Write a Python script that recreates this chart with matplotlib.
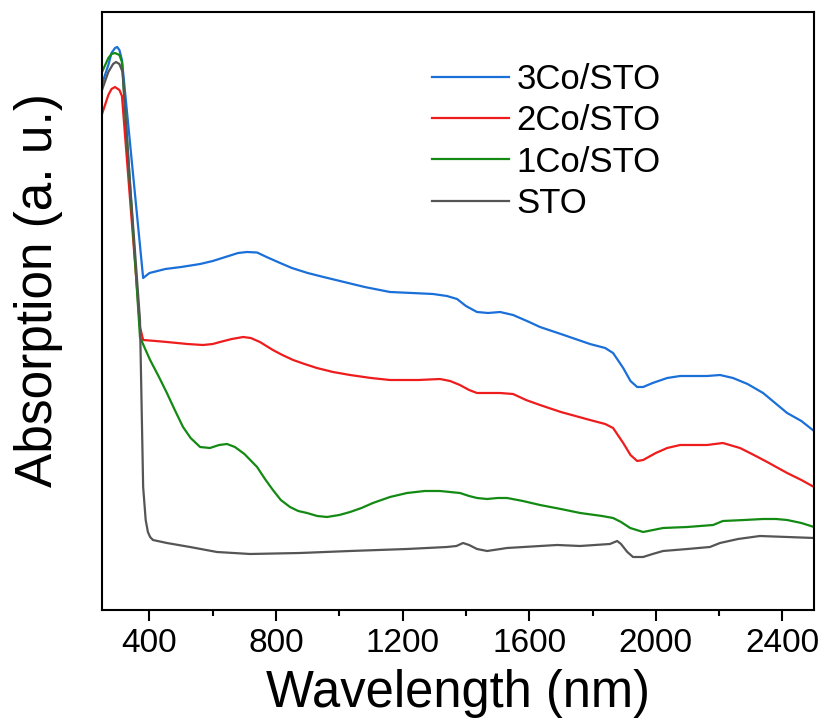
import matplotlib
matplotlib.use("Agg")
import matplotlib.pyplot as plt
from matplotlib.ticker import MultipleLocator

plt.rcParams['font.family'] = ['Liberation Sans', 'DejaVu Sans']

# wavelength (nm) and absorption (a.u.)
wl_3co = [250, 270, 280, 291, 298, 305, 313, 340, 360, 380, 400, 450, 500, 560, 600, 650, 680,
          708, 740, 770, 813, 850, 900, 950, 1002, 1080, 1160, 1230, 1296, 1340, 1372, 1400,
          1435, 1470, 1508, 1549, 1600, 1634, 1700, 1792, 1840, 1865, 1897, 1920, 1941, 1960,
          1990, 2036, 2077, 2162, 2203, 2244, 2290, 2339, 2415, 2460, 2500]
ab_3co = [5.26, 5.45, 5.57, 5.62, 5.63, 5.60, 5.50, 4.62, 3.97, 3.32, 3.37, 3.41, 3.43, 3.46,
          3.49, 3.54, 3.57, 3.58, 3.575, 3.53, 3.47, 3.42, 3.37, 3.33, 3.29, 3.23, 3.18, 3.17,
          3.16, 3.14, 3.11, 3.04, 2.98, 2.97, 2.98, 2.95, 2.88, 2.83, 2.76, 2.66, 2.62, 2.57,
          2.42, 2.29, 2.23, 2.23, 2.27, 2.32, 2.34, 2.34, 2.35, 2.32, 2.26, 2.17, 1.97, 1.89,
          1.79]

wl_2co = [250, 270, 280, 291, 305, 313, 340, 360, 370, 380, 420, 455, 520, 569, 600, 623, 660,
          696, 720, 749, 790, 820, 854, 890, 929, 980, 1034, 1100, 1160, 1250, 1318, 1350, 1381,
          1410, 1435, 1470, 1508, 1549, 1590, 1634, 1700, 1792, 1840, 1865, 1897, 1920, 1941,
          1960, 2000, 2036, 2077, 2162, 2212, 2266, 2310, 2352, 2415, 2460, 2500]
ab_2co = [4.96, 5.15, 5.21, 5.23, 5.20, 5.14, 4.05, 3.24, 2.83, 2.70, 2.69, 2.68, 2.66, 2.65,
          2.66, 2.68, 2.71, 2.73, 2.72, 2.68, 2.60, 2.55, 2.50, 2.46, 2.42, 2.38, 2.35, 2.32,
          2.30, 2.30, 2.31, 2.29, 2.25, 2.20, 2.17, 2.17, 2.17, 2.16, 2.10, 2.05, 1.98, 1.90,
          1.86, 1.82, 1.67, 1.55, 1.49, 1.50, 1.57, 1.62, 1.65, 1.65, 1.67, 1.62, 1.55, 1.48,
          1.37, 1.30, 1.23]

wl_1co = [250, 270, 280, 291, 305, 313, 340, 360, 370, 385, 402, 430, 455, 480, 506, 530, 560,
          591, 620, 645, 670, 700, 740, 765, 790, 815, 844, 870, 898, 930, 961, 1000, 1034,
          1070, 1106, 1160, 1214, 1270, 1318, 1381, 1410, 1435, 1467, 1500, 1530, 1580, 1634,
          1700, 1761, 1830, 1865, 1890, 1919, 1960, 2023, 2100, 2181, 2212, 2280, 2339, 2380,
          2415, 2460, 2500]
ab_1co = [5.38, 5.52, 5.56, 5.57, 5.55, 5.48, 4.18, 3.22, 2.73, 2.62, 2.50, 2.33, 2.17, 2.00,
          1.83, 1.72, 1.63, 1.62, 1.65, 1.66, 1.63, 1.56, 1.43, 1.31, 1.20, 1.10, 1.03, 0.99,
          0.97, 0.94, 0.93, 0.95, 0.98, 1.02, 1.07, 1.13, 1.17, 1.19, 1.19, 1.17, 1.14, 1.12,
          1.11, 1.12, 1.12, 1.09, 1.05, 1.01, 0.97, 0.94, 0.92, 0.88, 0.82, 0.78, 0.82, 0.83,
          0.85, 0.89, 0.90, 0.91, 0.91, 0.90, 0.87, 0.83]

wl_sto = [250, 270, 285, 294, 305, 315, 340, 370, 380, 388, 395, 402, 411, 455, 528, 613, 718,
          876, 1034, 1214, 1340, 1370, 1391, 1410, 1435, 1467, 1530, 1688, 1761, 1855, 1878,
          1890, 1910, 1928, 1960, 1990, 2023, 2100, 2171, 2203, 2260, 2329, 2415, 2500]
ab_sto = [5.20, 5.38, 5.46, 5.48, 5.46, 5.38, 4.20, 2.90, 1.23, 0.90, 0.78, 0.73, 0.70, 0.67,
          0.63, 0.58, 0.56, 0.57, 0.59, 0.61, 0.63, 0.64, 0.67, 0.65, 0.61, 0.59, 0.62, 0.65,
          0.64, 0.66, 0.69, 0.66, 0.58, 0.53, 0.53, 0.56, 0.59, 0.61, 0.63, 0.67, 0.71, 0.74,
          0.73, 0.72]

labels = ["3Co/STO", "2Co/STO", "1Co/STO", "STO"]
colors = ["#1a6fd8", "#ee1c1c", "#138a13", "#555555"]
x_ticks = [400, 800, 1200, 1600, 2000, 2400]

fig = plt.figure(figsize=(8.26, 7.28), dpi=100)
ax = fig.add_axes([0.1235, 0.1621, 0.862, 0.8214])

series = [(wl_3co, ab_3co), (wl_2co, ab_2co), (wl_1co, ab_1co), (wl_sto, ab_sto)]
for (x, y), lab, c in zip(series, labels, colors):
    ax.plot(x, y, color=c, lw=1.6, label=lab)

ax.set_xlim(250, 2500)
ax.set_ylim(0, 5.98)
ax.set_xticks(x_ticks)
ax.xaxis.set_minor_locator(MultipleLocator(200))
ax.set_yticks([])
ax.tick_params(axis='x', which='major', direction='out', length=8, width=1.5,
               labelsize=24, pad=5)
ax.tick_params(axis='x', which='minor', direction='out', length=4, width=1.5)
for s in ax.spines.values():
    s.set_linewidth(1.5)

ax.set_xlabel("Wavelength (nm)", fontsize=36.5, labelpad=7.5)
ax.set_ylabel("Absorption (a. u.)", fontsize=37)
ax.yaxis.set_label_coords(-0.055, 0.535)

leg = ax.legend(loc='upper left', bbox_to_anchor=(0.464, 0.915), frameon=False,
                fontsize=25, handlelength=2.2, handletextpad=0.22,
                labelspacing=0.24, borderpad=0, borderaxespad=0)
for l in leg.get_lines():
    l.set_linewidth(1.6)

fig.savefig("out.png", dpi=100)
